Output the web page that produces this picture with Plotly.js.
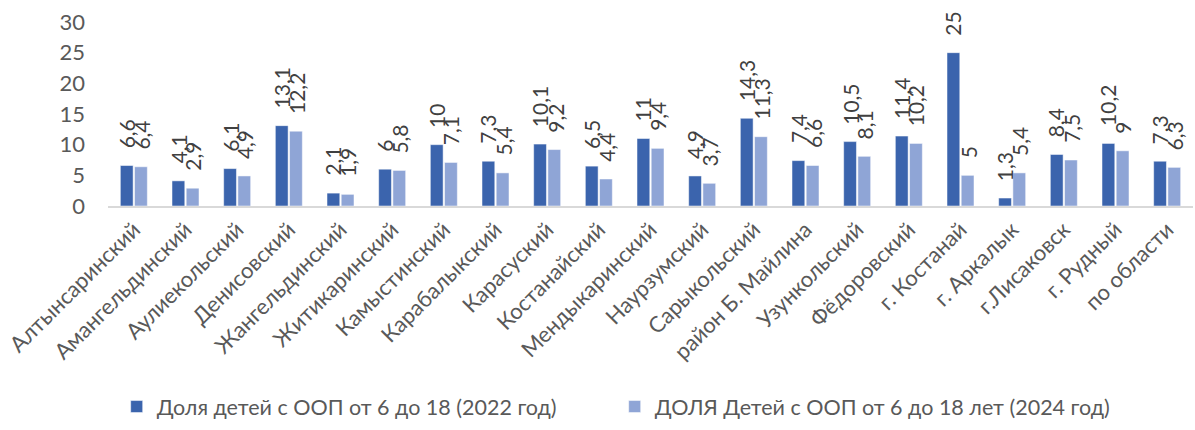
<!DOCTYPE html>
<html><head><meta charset="utf-8">
<script src="https://cdn.plot.ly/plotly-3.0.1.min.js"></script>
<style>html,body{margin:0;padding:0;background:#fff}#c{width:1195px;height:430px}</style>
</head><body><div id="c"></div>
<script>
const categories = ["Алтынсаринский","Амангельдинский","Аулиекольский","Денисовский","Жангельдинский","Житикаринский","Камыстинский","Карабалыкский","Карасуский","Костанайский","Мендыкаринский","Наурзумский","Сарыкольский","район Б. Майлина","Узункольский","Фёдоровский","г. Костанай","г. Аркалык","г.Лисаковск","г. Рудный","по области"];
const share2022 = [6.6,4.1,6.1,13.1,2.1,6,10,7.3,10.1,6.5,11,4.9,14.3,7.4,10.5,11.4,25,1.3,8.4,10.2,7.3];
const share2024 = [6.4,2.9,4.9,12.2,1.9,5.8,7.1,5.4,9.2,4.4,9.4,3.7,11.3,6.6,8.1,10.2,5,5.4,7.5,9,6.3];
const seriesNames = ["Доля детей с ООП от 6 до 18 (2022 год)","ДОЛЯ Детей с ООП от 6 до 18 лет (2024 год)"];

const FONT = "Lato, 'Open Sans', sans-serif";
const GREY = "#595959";
const C1 = "#3B64AD", C2 = "#8FA5D6";
const fmt = v => String(v).replace('.', ',');

const traces = [
  {type:'bar', name:seriesNames[0], x:categories, y:share2022, marker:{color:C1, line:{color:'#fff', width:0.5}}, hoverinfo:'x+y'},
  {type:'bar', name:seriesNames[1], x:categories, y:share2024, marker:{color:C2, line:{color:'#fff', width:0.5}}, hoverinfo:'x+y'}
];

const ann = [];
categories.forEach((c,i)=>{
  ann.push({x:c, y:share2022[i], xref:'x', yref:'y', text:fmt(share2022[i]), showarrow:false, textangle:-90,
    yanchor:'bottom', xanchor:'center', xshift:-7.5, yshift:15, font:{family:FONT, size:21, color:'#404040'}});
  ann.push({x:c, y:share2024[i], xref:'x', yref:'y', text:fmt(share2024[i]), showarrow:false, textangle:-90,
    yanchor:'bottom', xanchor:'center', xshift:7.5, yshift:15, font:{family:FONT, size:21, color:'#404040'}});
});

const layout = {
  width:1195, height:430,
  margin:{l:108, r:2, t:22, b:221},
  paper_bgcolor:'#fff', plot_bgcolor:'#fff',
  barmode:'group', bargap:0.45, bargroupgap:0.1,
  font:{family:FONT, color:GREY},
  showlegend:true,
  legend:{orientation:'h', x:0.008, y:-1.09, xanchor:'left', yanchor:'middle', font:{family:FONT, size:21.5, color:GREY}, entrywidth:453, entrywidthmode:'pixels', itemwidth:30},
  xaxis:{type:'category', tickangle:-45, tickfont:{family:FONT, size:22, color:GREY}, showline:true, linecolor:'#D9D9D9', linewidth:2, ticks:'', automargin:false, showgrid:false, fixedrange:true},
  yaxis:{range:[0,30], dtick:5, tick0:0, showgrid:false, zeroline:false, showline:false, ticks:'', ticklabelstandoff:22, tickfont:{family:FONT, size:22, color:GREY}, automargin:false, fixedrange:true},
  annotations:ann
};
Plotly.newPlot('c', traces, layout, {displayModeBar:false, staticPlot:true});
</script></body></html>
